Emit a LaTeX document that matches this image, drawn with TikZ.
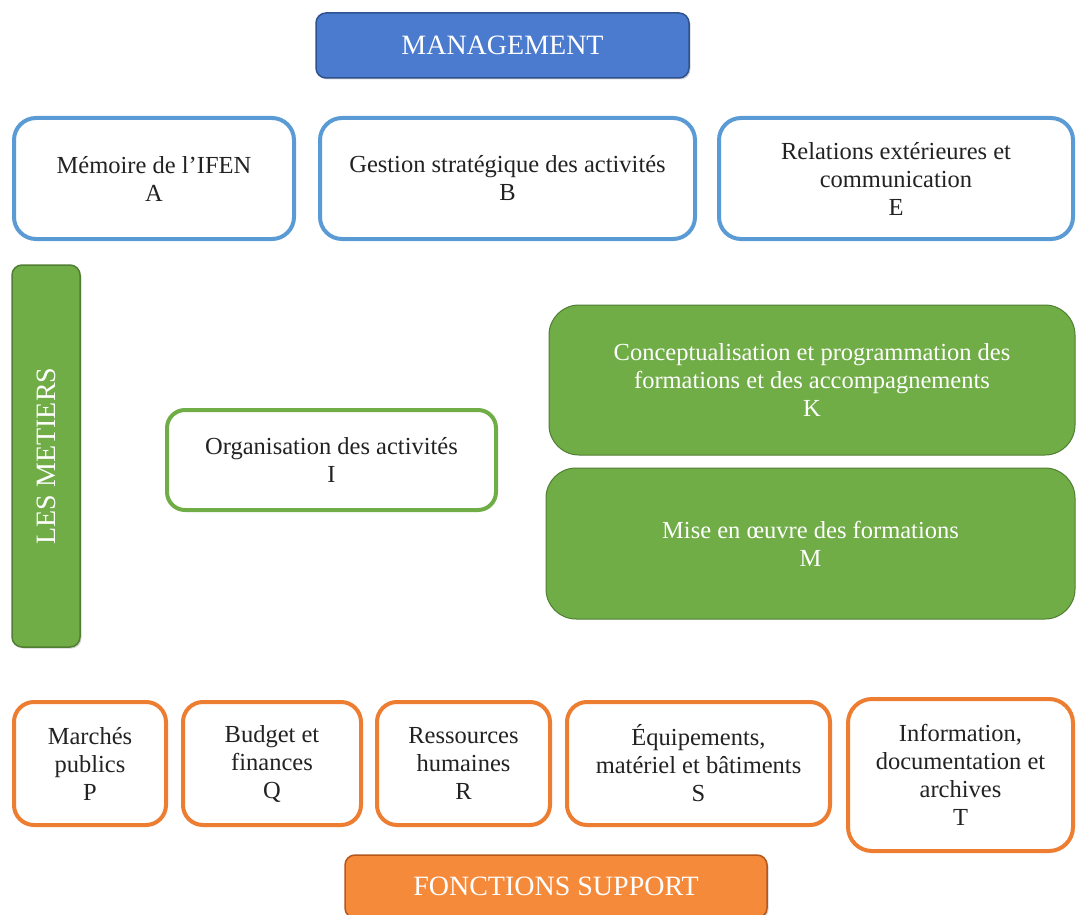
\documentclass[tikz,border=0pt]{standalone}
\usepackage{fontspec}
\setmainfont{Liberation Serif}
\usetikzlibrary{shadows}
\definecolor{mblue}{HTML}{4A7BCF}
\definecolor{mbluedk}{HTML}{2F528F}
\definecolor{lblue}{HTML}{5B9BD5}
\definecolor{mgreen}{HTML}{70AD47}
\definecolor{mgreendk}{HTML}{507E32}
\definecolor{morange}{HTML}{F58A3B}
\definecolor{morangedk}{HTML}{B5561A}
\definecolor{lorange}{HTML}{ED7D31}
\definecolor{txt}{HTML}{222222}
\tikzset{
  headbox/.style={rounded corners=10pt, line width=1.5pt, text=white, inner sep=0pt,
    font=\fontsize{28}{32}\selectfont, drop shadow={opacity=0.35, shadow xshift=1.5pt, shadow yshift=-1.5pt}},
  outbox/.style={draw=#1, line width=4pt, rounded corners=22pt, fill=white, text=txt,
    align=center, inner sep=0pt, font=\fontsize{24.5}{28}\selectfont},
  greenbox/.style={draw=mgreendk, line width=1pt, fill=mgreen, rounded corners=30pt, text=white,
    align=center, inner sep=0pt, font=\fontsize{24.5}{28}\selectfont},
}
\begin{document}
\begin{tikzpicture}[x=1pt,y=-1pt]
\useasboundingbox (0,0) rectangle (1076,915);
\clip (0,0) rectangle (1076,915);
% headings
\node[headbox, fill=mblue, draw=mbluedk, minimum width=373pt, minimum height=65pt] (mgmt) at (502.5,45.5) {MANAGEMENT};
\node[headbox, fill=mgreen, draw=mgreendk, minimum width=382pt, minimum height=68pt, rotate=90] (metiers) at (46,456) {LES METIERS};
\node[headbox, fill=morange, draw=morangedk, minimum width=422pt, minimum height=63pt] (support) at (556,886.5) {FONCTIONS SUPPORT};
% management row
\node[outbox=lblue, minimum width=280pt, minimum height=121pt] (A) at (154,178.5) {Mémoire de l’IFEN\\A};
\node[outbox=lblue, minimum width=375pt, minimum height=121pt] (B) at (507.5,178.5) {Gestion stratégique des activités\\B};
\node[outbox=lblue, minimum width=354pt, minimum height=121pt] (E) at (896,178.5) {Relations extérieures et\\communication\\E};
% metiers
\node[outbox=mgreen, minimum width=329pt, minimum height=100pt, rounded corners=18pt] (I) at (331.5,460) {Organisation des activités\\I};
\node[greenbox, minimum width=526pt, minimum height=150pt] (K) at (812,380) {Conceptualisation et programmation des\\formations et des accompagnements\\K};
\node[greenbox, minimum width=529pt, minimum height=151pt] (M) at (810.5,543.5) {Mise en œuvre des formations\\M};
% support row
\node[outbox=lorange, minimum width=152pt, minimum height=123pt, rounded corners=20pt] (P) at (90,763.5) {Marchés\\publics\\P};
\node[outbox=lorange, minimum width=178pt, minimum height=123pt, rounded corners=20pt] (Q) at (272,763.5) {Budget et\\finances\\Q};
\node[outbox=lorange, minimum width=173pt, minimum height=123pt, rounded corners=20pt] (R) at (463.5,763.5) {Ressources\\humaines\\R};
\node[outbox=lorange, minimum width=263pt, minimum height=123pt, rounded corners=20pt] (S) at (698.5,763.5) {Équipements,\\matériel et bâtiments\\S};
\node[outbox=lorange, minimum width=225pt, minimum height=152pt, rounded corners=24pt] (T) at (960.5,775) {Information,\\documentation et\\archives\\T};
\end{tikzpicture}
\end{document}
